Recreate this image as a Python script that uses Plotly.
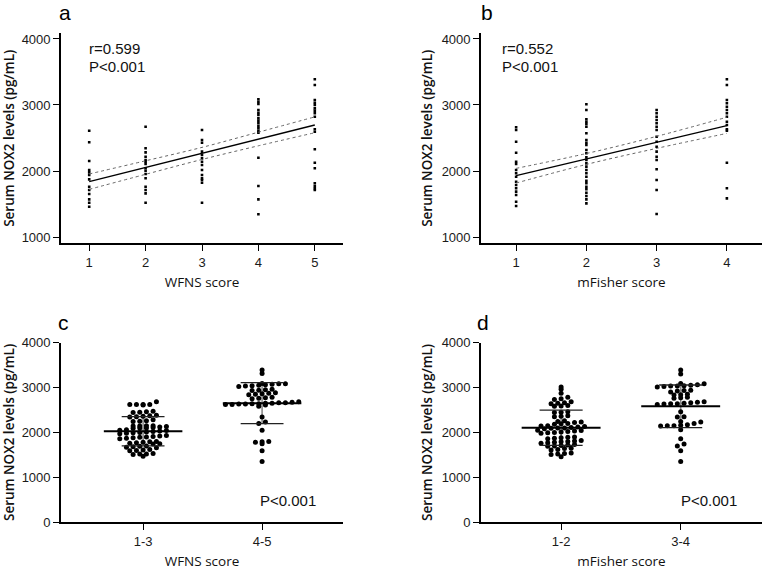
import numpy as np
import plotly.graph_objects as go

W, H = 764, 572

# ---------------- Data ----------------
# Panel a: serum NOX2 (pg/mL) by WFNS score
wfns_scores = [1, 2, 3, 4, 5]
wfns_values = {
    1: [2611, 2435, 2152, 2015, 1980, 1939, 1874, 1762, 1712, 1652, 1571, 1520, 1459],
    2: [2671, 2344, 2283, 2217, 2167, 2141, 2106, 2041, 2005, 1955, 1890, 1762, 1712, 1662, 1520],
    3: [2621, 2470, 2429, 2293, 2242, 2192, 2141, 2091, 2015, 1939, 1889, 1864, 1823, 1520],
    4: [3086, 3050, 3015, 2924, 2883, 2848, 2798, 2762, 2723, 2682, 2647, 2611, 2580, 2202, 1773, 1571, 1344],
    5: [3389, 3303, 3076, 3035, 3000, 2950, 2914, 2874, 2823, 2632, 2595, 2329, 2126, 2041, 1814, 1773, 1738, 1712],
}
wfns_fit_x = [1, 2, 3, 4, 5]
wfns_fit_y = [1838, 2053, 2268, 2482, 2697]
wfns_ci_hi = [1955, 2155, 2358, 2588, 2820]
wfns_ci_lo = [1722, 1950, 2175, 2382, 2580]
wfns_stats = ["r=0.599", "P<0.001"]

# Panel b: serum NOX2 by mFisher score
mfisher_scores = [1, 2, 3, 4]
mfisher_values = {
    1: [2662, 2621, 2444, 2277, 2141, 2106, 2015, 1965, 1914, 1838, 1788, 1738, 1687, 1637, 1535, 1470],
    2: [3011, 2924, 2783, 2747, 2712, 2671, 2571, 2470, 2429, 2394, 2318, 2268, 2207, 2167, 2116,
        2066, 2015, 1965, 1914, 1853, 1814, 1762, 1723, 1671, 1621, 1571, 1510],
    3: [2924, 2874, 2823, 2773, 2723, 2671, 2621, 2520, 2444, 2368, 2293, 2217, 2167, 2026, 1864, 1712, 1349],
    4: [3389, 3303, 3076, 3026, 2974, 2924, 2874, 2823, 2747, 2697, 2632, 2611, 2126, 1738, 1586],
}
mfisher_fit_x = [1, 2, 3, 4]
mfisher_fit_y = [1929, 2182, 2434, 2687]
mfisher_ci_hi = [2040, 2265, 2525, 2815]
mfisher_ci_lo = [1818, 2100, 2343, 2570]
mfisher_stats = ["r=0.552", "P<0.001"]

# Panel c: WFNS groups
wfns_groups = ["1-3", "4-5"]
wfns_low = [2680, 2620, 2620, 2620, 2620, 2610, 2470, 2460, 2450, 2440, 2380, 2370, 2360, 2350, 2340,
            2280, 2260, 2250, 2240, 2150, 2150, 2140, 2140, 2130, 2120, 2110, 2100, 2100, 2090,
            2060, 2050, 2040, 2030, 2020, 2010, 2000, 1990, 1980, 1970, 1930, 1920, 1910, 1900,
            1890, 1880, 1870, 1860, 1800, 1790, 1780, 1770, 1760, 1750, 1740, 1700, 1690, 1680,
            1670, 1660, 1620, 1610, 1600, 1590, 1530, 1520, 1520, 1510, 1470]
wfns_high = [3390, 3310, 3090, 3080, 3080, 3070, 3060, 3050, 3040, 3030, 3020, 2960, 2950, 2940, 2930,
             2880, 2870, 2860, 2850, 2840, 2780, 2770, 2760, 2750, 2680, 2670, 2660, 2660, 2650,
             2650, 2640, 2640, 2630, 2630, 2620, 2620, 2610, 2580, 2340, 2230, 2200, 2050, 1800,
             1790, 1780, 1750, 1590, 1350]

# Panel d: mFisher groups
mfisher_groups = ["1-2", "3-4"]
mfisher_low = [3010, 2960, 2870, 2780, 2750, 2730, 2680, 2660, 2650, 2640, 2600, 2590, 2580, 2460,
               2450, 2440, 2370, 2360, 2350, 2260, 2240, 2230, 2220, 2200, 2190, 2180, 2150, 2140,
               2130, 2120, 2110, 2100, 2100, 2090, 2080, 2050, 2040, 2030, 2020, 2010, 2000, 1990,
               1980, 1900, 1890, 1880, 1870, 1860, 1820, 1810, 1800, 1790, 1780, 1770, 1760, 1730,
               1720, 1710, 1700, 1690, 1650, 1640, 1620, 1610, 1540, 1530, 1520, 1510, 1460]
mfisher_high = [3390, 3300, 3090, 3080, 3060, 3050, 3040, 3030, 3030, 3020, 3010, 2940, 2930, 2920,
                2900, 2850, 2840, 2830, 2780, 2770, 2760, 2680, 2670, 2660, 2650, 2640, 2640, 2630,
                2620, 2460, 2350, 2340, 2240, 2230, 2200, 2170, 2160, 2150, 2150, 2140, 2060, 1860,
                1740, 1700, 1590, 1350]
group_stats = "P<0.001"

y_title = "Serum NOX2 levels (pg/mL)"
panel_letters = ["a", "b", "c", "d"]

# ---------------- Layout helpers ----------------
def px_x(p):
    return p / W

def px_y(p):
    return 1 - p / H

TICKFONT = dict(family="Liberation Sans, Arial, sans-serif", size=13, color="#1a1a1a")
TITLEFONT = dict(family="Open Sans, sans-serif", size=13.5, color="#111")

def axis(domain, rng, **kw):
    d = dict(domain=domain, range=rng, showline=True, linecolor="black", linewidth=1.7,
             ticks="outside", ticklen=6, tickwidth=1.4, tickcolor="black", showgrid=False,
             zeroline=False, tickfont=TICKFONT, fixedrange=True, automargin=False)
    d.update(kw)
    return d

fig = go.Figure()

# ---- scatter panels (a, b) ----
def scatter_panel(values, fx, fy, hi, lo, xa, ya):
    xs, ys = [], []
    for s, vs in values.items():
        xs += [s] * len(vs)
        ys += vs
    fig.add_trace(go.Scatter(x=xs, y=ys, mode="markers", xaxis=xa, yaxis=ya,
                             marker=dict(symbol="square", size=2.6, color="black"),
                             showlegend=False, hoverinfo="skip"))
    for band in (hi, lo):
        fig.add_trace(go.Scatter(x=fx, y=band, mode="lines", xaxis=xa, yaxis=ya,
                                 line=dict(color="#666", width=1, dash="dot", shape="spline"),
                                 showlegend=False, hoverinfo="skip"))
    fig.add_trace(go.Scatter(x=fx, y=fy, mode="lines", xaxis=xa, yaxis=ya,
                             line=dict(color="black", width=1.3),
                             showlegend=False, hoverinfo="skip"))

scatter_panel(wfns_values, wfns_fit_x, wfns_fit_y, wfns_ci_hi, wfns_ci_lo, "x", "y")
scatter_panel(mfisher_values, mfisher_fit_x, mfisher_fit_y, mfisher_ci_hi, mfisher_ci_lo, "x2", "y2")

# ---- dot plot panels (c, d) ----
def swarm(values, center, row_h, dx):
    vals = np.asarray(values, float)
    rows = np.round(vals / row_h).astype(int)
    xs = np.zeros(len(vals))
    for r in np.unique(rows):
        idx = np.where(rows == r)[0]
        idx = idx[np.argsort(vals[idx])]
        n = len(idx)
        xs[idx] = center + (np.arange(n) - (n - 1) / 2) * dx
    return xs

def dot_panel(groups, xa, ya):
    for c, vals in enumerate(groups):
        vals = np.asarray(vals, float)
        m = vals.mean()
        s = vals.std(ddof=1)
        fig.add_trace(go.Scatter(x=[c, c], y=[m - s, m + s], mode="lines", xaxis=xa, yaxis=ya,
                                 line=dict(color="#8a8a8a", width=1.6),
                                 showlegend=False, hoverinfo="skip"))
        xs = swarm(vals, c, 95, 0.056)
        fig.add_trace(go.Scatter(x=xs, y=vals, mode="markers", xaxis=xa, yaxis=ya,
                                 marker=dict(symbol="circle", size=5, color="black"),
                                 showlegend=False, hoverinfo="skip"))
        fig.add_trace(go.Scatter(x=[c - 0.33, c + 0.33], y=[m, m], mode="lines", xaxis=xa, yaxis=ya,
                                 line=dict(color="black", width=2),
                                 showlegend=False, hoverinfo="skip"))
        for yy in (m - s, m + s):
            fig.add_trace(go.Scatter(x=[c - 0.18, c + 0.18], y=[yy, yy], mode="lines",
                                     xaxis=xa, yaxis=ya, line=dict(color="#222", width=1.3),
                                     showlegend=False, hoverinfo="skip"))

dot_panel([wfns_low, wfns_high], "x3", "y3")
dot_panel([mfisher_low, mfisher_high], "x4", "y4")

top_dom = [px_y(243.3), px_y(33.3)]
bot_dom = [px_y(522.3), px_y(342.5)]
left_dom = [px_x(61), px_x(343)]
right_dom = [px_x(481), px_x(762)]

ytitle = dict(text=y_title, font=dict(TITLEFONT, weight=600), standoff=6)

fig.update_layout(
    template="none",
    width=W, height=H, margin=dict(l=0, r=0, t=0, b=0, autoexpand=False),
    paper_bgcolor="white", plot_bgcolor="white", showlegend=False,
    xaxis=axis(left_dom, [0.5, 5.5], anchor="y", tickvals=wfns_scores,
               title=dict(text="WFNS score", font=TITLEFONT, standoff=9)),
    yaxis=axis(top_dom, [905, 4086], anchor="x", tickvals=[1000, 2000, 3000, 4000], title=ytitle),
    xaxis2=axis(right_dom, [0.5, 4.5], anchor="y2", tickvals=mfisher_scores,
                title=dict(text="mFisher score", font=TITLEFONT, standoff=9)),
    yaxis2=axis(top_dom, [905, 4086], anchor="x2", tickvals=[1000, 2000, 3000, 4000], title=ytitle),
    xaxis3=axis(left_dom, [-0.69, 1.68], anchor="y3", tickvals=[0, 1], ticktext=wfns_groups,
                title=dict(text="WFNS score", font=TITLEFONT, standoff=9)),
    yaxis3=axis(bot_dom, [0, 4000], anchor="x3", tickvals=[0, 1000, 2000, 3000, 4000], title=ytitle),
    xaxis4=axis(right_dom, [-0.67, 1.68], anchor="y4", tickvals=[0, 1], ticktext=mfisher_groups,
                title=dict(text="mFisher score", font=TITLEFONT, standoff=9)),
    yaxis4=axis(bot_dom, [0, 4000], anchor="x4", tickvals=[0, 1000, 2000, 3000, 4000], title=ytitle),
)

LETTERFONT = dict(family="Liberation Sans, Arial, sans-serif", size=21, color="black")
STATFONT = dict(family="Liberation Sans, Arial, sans-serif", size=15, color="#111")

letter_pos = [(57, 12.5), (479, 12.5), (56, 322), (475, 322)]
for t, (lx, ly) in zip(panel_letters, letter_pos):
    fig.add_annotation(text=t, x=px_x(lx), y=px_y(ly), xref="paper", yref="paper",
                       xanchor="left", yanchor="middle", showarrow=False, font=LETTERFONT)

stat_items = [
    (wfns_stats[0], 87, 48.5), (wfns_stats[1], 87, 66),
    (mfisher_stats[0], 500, 48.5), (mfisher_stats[1], 500, 66),
    (group_stats, 258, 500.5), (group_stats, 679, 500.5),
]
for t, sx, sy in stat_items:
    fig.add_annotation(text=t, x=px_x(sx), y=px_y(sy), xref="paper", yref="paper",
                       xanchor="left", yanchor="middle", showarrow=False, font=STATFONT)

# place the figure at the window origin (no default 8px page margin), hide the mode bar
fig.write_html("out.html", config={"displayModeBar": False},
               post_script="document.body.style.margin='0';")
